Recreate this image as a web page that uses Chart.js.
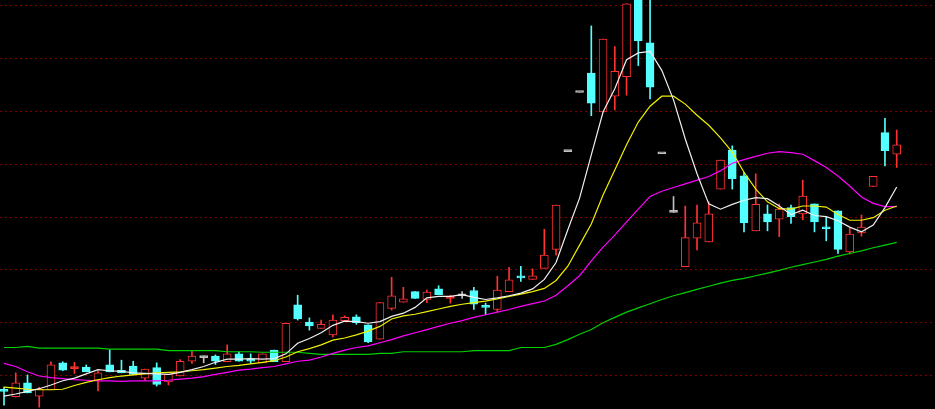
<!DOCTYPE html>
<html><head><meta charset="utf-8">
<script src="https://cdn.jsdelivr.net/npm/chart.js@4/dist/chart.umd.min.js"></script>
<style>html,body{margin:0;padding:0;background:#000;overflow:hidden}canvas{display:block;background:#000}</style>
</head><body>
<canvas id="c" width="935" height="409"></canvas>
<script>
// Daily candles (price units)
const openP = [9.71,9.60,9.86,9.61,9.73,10.24,10.13,10.16,9.91,10.20,10.10,10.18,9.95,10.15,9.88,9.99,10.27,10.34,10.37,10.26,10.41,10.28,10.24,10.48,10.26,11.34,11.01,10.89,10.77,11.04,11.11,10.96,10.69,11.27,11.39,11.59,11.44,11.64,11.46,11.51,11.61,11.31,11.25,11.59,11.87,11.82,12.03,12.39,14.24,15.36,15.73,14.99,15.29,15.66,17.30,16.30,14.20,13.09,12.06,12.60,12.53,13.53,14.27,13.78,12.74,13.06,12.96,13.18,13.06,13.25,12.80,13.12,12.34,12.70,13.58,14.60,14.19];
const highP = [9.78,10.05,10.01,9.78,10.26,10.26,10.25,10.20,10.09,10.49,10.29,10.27,10.12,10.24,10.02,10.30,10.46,10.37,10.39,10.58,10.45,10.41,10.41,10.48,10.99,11.52,11.09,11.05,11.15,11.13,11.15,10.96,11.38,11.86,11.67,11.59,11.62,11.70,11.52,11.59,11.67,11.37,11.88,12.05,12.07,12.02,12.77,13.23,14.24,15.36,16.62,16.37,16.23,17.04,17.50,17.50,14.20,13.39,13.21,13.23,13.29,14.08,14.35,13.85,13.82,13.23,13.25,13.23,13.70,13.25,13.01,13.12,12.79,13.04,13.77,14.87,14.65];
const lowP = [9.44,9.59,9.67,9.40,9.73,10.09,10.04,10.07,9.71,10.07,10.05,10.01,9.91,9.80,9.82,9.99,10.23,10.24,10.21,10.26,10.27,10.23,10.24,10.26,10.26,11.05,10.86,10.89,10.73,11.04,10.97,10.62,10.69,11.24,11.39,11.46,11.38,11.53,11.37,11.46,11.25,11.15,11.21,11.59,11.78,11.82,12.03,12.28,14.24,15.36,14.92,14.99,15.03,15.31,15.87,15.24,14.20,13.09,12.06,12.38,12.53,13.53,13.53,12.72,12.74,12.74,12.63,12.88,12.95,12.72,12.55,12.31,12.30,12.64,13.58,13.97,13.94];
const closeP = [9.70,9.86,9.67,9.74,10.20,10.10,10.16,10.07,10.05,10.07,10.05,10.02,10.12,9.83,10.02,10.27,10.37,10.34,10.27,10.41,10.27,10.27,10.41,10.26,10.99,11.07,10.94,10.97,11.05,11.10,11.00,10.64,11.38,11.51,11.45,11.46,11.58,11.53,11.48,11.51,11.35,11.29,11.62,11.81,11.85,11.89,12.28,13.23,14.24,15.36,15.16,16.37,15.76,17.04,16.34,15.46,14.20,13.09,12.61,12.89,13.06,14.08,13.73,12.89,13.24,12.91,13.15,13.01,13.40,12.91,12.78,12.39,12.68,12.81,13.77,14.26,14.37];
// Moving averages
const ma5 = [9.61,9.65,9.70,9.75,9.82,9.90,9.95,10.03,10.11,10.09,10.08,10.05,10.04,10.03,10.02,10.06,10.11,10.17,10.25,10.31,10.31,10.32,10.31,10.32,10.41,10.61,10.70,10.81,10.95,11.03,11.02,10.99,11.02,11.12,11.18,11.29,11.47,11.50,11.50,11.53,11.48,11.44,11.47,11.51,11.56,11.64,11.82,12.14,12.76,13.36,14.18,14.99,15.43,15.98,16.11,16.14,15.78,15.22,14.48,13.82,13.25,13.15,13.24,13.32,13.37,13.35,13.21,13.05,13.13,13.03,13.01,12.93,12.81,12.72,12.85,13.18,13.57];
const ma10 = [9.78,9.76,9.74,9.73,9.73,9.74,9.81,9.87,9.92,9.96,9.99,10.01,10.03,10.05,10.06,10.07,10.09,10.11,10.14,10.17,10.19,10.22,10.25,10.28,10.35,10.45,10.51,10.58,10.67,10.71,10.77,10.84,10.93,11.07,11.13,11.16,11.21,11.26,11.31,11.35,11.38,11.41,11.45,11.50,11.54,11.59,11.65,11.80,12.07,12.47,12.87,13.42,13.89,14.37,14.80,15.10,15.29,15.29,15.14,14.93,14.74,14.50,14.23,13.85,13.53,13.29,13.16,13.15,13.21,13.21,13.19,13.05,12.94,12.94,12.99,13.13,13.21];
const ma20 = [10.23,10.17,10.07,9.99,9.96,9.94,9.92,9.91,9.90,9.90,9.89,9.90,9.90,9.90,9.91,9.93,9.95,9.98,10.02,10.06,10.10,10.12,10.15,10.17,10.22,10.27,10.29,10.35,10.42,10.48,10.53,10.56,10.62,10.68,10.75,10.81,10.87,10.93,10.99,11.04,11.10,11.15,11.20,11.25,11.31,11.36,11.41,11.52,11.70,11.89,12.17,12.43,12.66,12.91,13.15,13.39,13.49,13.56,13.63,13.70,13.77,13.88,14.02,14.09,14.15,14.21,14.24,14.22,14.19,14.07,13.94,13.78,13.59,13.38,13.26,13.20,13.20];
const ma60 = [10.53,10.53,10.55,10.52,10.52,10.52,10.52,10.52,10.52,10.50,10.50,10.50,10.50,10.50,10.47,10.47,10.47,10.47,10.47,10.45,10.45,10.45,10.44,10.44,10.44,10.44,10.42,10.40,10.40,10.40,10.40,10.40,10.42,10.42,10.45,10.45,10.45,10.45,10.45,10.45,10.47,10.47,10.47,10.47,10.53,10.53,10.53,10.59,10.68,10.78,10.87,11.00,11.10,11.20,11.28,11.36,11.44,11.51,11.57,11.63,11.69,11.75,11.80,11.84,11.89,11.94,11.99,12.05,12.10,12.15,12.20,12.26,12.31,12.36,12.42,12.47,12.52];
// Horizontal price grid levels
const gridValues = [10,11,12,13,14,15,16,17];

const RED = '#ff3232', CYAN = '#54ffff', GREY = '#c0c0c0';
const idx = openP.map((_, i) => i);
const dirColor = i => { const d = closeP[i] - openP[i]; return d > 0 ? RED : (d < 0 ? CYAN : GREY); };
const bodyFill = i => { const d = closeP[i] - openP[i]; return (d > 0.05) ? '#000000' : dirColor(i); };
const series = arr => arr.map((v, i) => ({x: i, y: v}));
const lineDs = (arr, color) => ({type: 'line', data: series(arr), borderColor: color, borderWidth: 1.2, pointRadius: 0, tension: 0, fill: false, order: 0});

new Chart(document.getElementById('c'), {
  type: 'bar',
  data: {datasets: [
    lineDs(ma5, '#f0f0f0'),
    lineDs(ma10, '#f0f000'),
    lineDs(ma20, '#ff00ff'),
    lineDs(ma60, '#00d000'),
    {type: 'bar', data: idx.map(i => ({x: i, y: [openP[i], closeP[i]]})),
     backgroundColor: idx.map(bodyFill), borderColor: idx.map(dirColor), borderWidth: 1,
     borderSkipped: false, barThickness: 8, minBarLength: 2, grouped: false, order: 1},
    {type: 'bar', data: idx.map(i => ({x: i, y: [lowP[i], highP[i]]})),
     backgroundColor: idx.map(dirColor), borderWidth: 0, barThickness: 1, grouped: false, order: 2}
  ]},
  options: {
    responsive: false, animation: false, devicePixelRatio: 1,
    layout: {padding: 0},
    plugins: {legend: {display: false}, tooltip: {enabled: false}},
    scales: {
      x: {type: 'linear', min: -0.3405, max: 79.26, display: false, offset: false},
      y: {min: 9.3655, max: 17.112,
          afterBuildTicks: s => { s.ticks = gridValues.map(v => ({value: v})); },
          ticks: {display: false},
          grid: {color: '#800000', drawTicks: false, lineWidth: 1},
          border: {display: false, dash: [2, 3]}}
    }
  }
});
</script>
</body></html>
